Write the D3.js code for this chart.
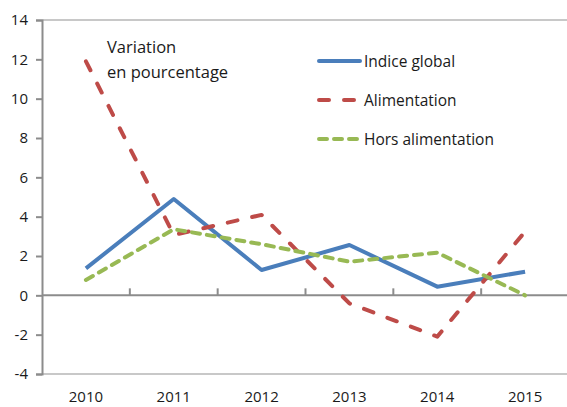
<!DOCTYPE html>
<html>
<head>
<meta charset="utf-8">
<script src="https://cdn.jsdelivr.net/npm/d3@7"></script>
<style>
  body { margin: 0; background: #fff; }
  text { font-family: "Open Sans", "Noto Sans", sans-serif; fill: #1a1a1a; }
</style>
</head>
<body>
<svg width="567" height="407"></svg>
<script>
const years = ["2010", "2011", "2012", "2013", "2014", "2015"];
const indiceGlobal = [1.37, 4.9, 1.29, 2.56, 0.44, 1.2];
const alimentation = [11.9, 3.07, 4.09, -0.41, -2.1, 3.24];
const horsAlimentation = [0.78, 3.36, 2.6, 1.71, 2.17, 0.0];
const yTicks = [-4, -2, 0, 2, 4, 6, 8, 10, 12, 14];

const series = [
  { name: "Indice global", values: indiceGlobal, color: "#4a7ebb", dash: null },
  { name: "Alimentation", values: alimentation, color: "#be4b48", dash: "10,15" },
  { name: "Hors alimentation", values: horsAlimentation, color: "#98b954", dash: "8,7" }
];

const svg = d3.select("svg");
const plotLeft = 42, plotRight = 569, plotTop = 20, plotBottom = 374;

const x = d3.scaleBand().domain(years).range([plotLeft, plotRight]);
const y = d3.scaleLinear().domain([-4, 14]).range([plotBottom, plotTop]);

// plot frame: top and bottom light lines
svg.append("line").attr("x1", plotLeft).attr("x2", plotRight).attr("y1", plotTop).attr("y2", plotTop)
  .attr("stroke", "#c8c8c8").attr("stroke-width", 2);
svg.append("line").attr("x1", plotLeft).attr("x2", plotRight).attr("y1", plotBottom).attr("y2", plotBottom)
  .attr("stroke", "#c8c8c8").attr("stroke-width", 2);

// y axis (hyphen minus, like the original)
const yAxis = svg.append("g")
  .attr("transform", `translate(${plotLeft},0)`)
  .call(d3.axisLeft(y).tickValues(yTicks).tickSize(6).tickPadding(8).tickFormat(d => String(d)));
yAxis.select(".domain").attr("stroke", "#8c8c8c").attr("stroke-width", 2);
yAxis.selectAll(".tick line").attr("stroke", "#8c8c8c").attr("stroke-width", 2);
yAxis.selectAll("text").attr("font-size", 15).attr("font-family", "'Open Sans', 'Noto Sans', sans-serif").attr("fill", "#1a1a1a");

// zero line with category ticks
svg.append("line").attr("x1", plotLeft).attr("x2", plotRight).attr("y1", y(0)).attr("y2", y(0))
  .attr("stroke", "#8c8c8c").attr("stroke-width", 2);
svg.append("g").selectAll("line")
  .data(years.slice(1))
  .join("line")
  .attr("x1", d => x(d)).attr("x2", d => x(d))
  .attr("y1", y(0) - 7).attr("y2", y(0))
  .attr("stroke", "#8c8c8c").attr("stroke-width", 2);

// x labels
svg.append("g").selectAll("text")
  .data(years)
  .join("text")
  .attr("x", d => x(d) + x.bandwidth() / 2)
  .attr("y", 402)
  .attr("text-anchor", "middle")
  .attr("font-size", 15)
  .text(d => d);

// lines
const line = d3.line()
  .x((d, i) => x(years[i]) + x.bandwidth() / 2)
  .y(d => y(d));

svg.append("g").selectAll("path")
  .data(series)
  .join("path")
  .attr("d", d => line(d.values))
  .attr("fill", "none")
  .attr("stroke", d => d.color)
  .attr("stroke-width", 4)
  .attr("stroke-dasharray", d => d.dash)
  .attr("stroke-linecap", d => d.dash ? "round" : "butt")
  .attr("stroke-linejoin", "round");

// annotation
svg.append("text").attr("x", 107).attr("y", 53).attr("font-size", 16.5).text("Variation");
svg.append("text").attr("x", 107).attr("y", 78).attr("font-size", 16.5).text("en pourcentage");

// legend
const legend = svg.append("g").selectAll("g")
  .data(series)
  .join("g")
  .attr("transform", (d, i) => `translate(319,${61 + i * 39})`);
legend.append("line")
  .attr("x1", 0).attr("x2", 41).attr("y1", 0).attr("y2", 0)
  .attr("stroke", d => d.color).attr("stroke-width", 4)
  .attr("stroke-dasharray", d => d.dash)
  .attr("stroke-linecap", "round");
legend.append("text")
  .attr("x", 45).attr("y", 5.5)
  .attr("font-size", 15.5)
  .text(d => d.name);
</script>
</body>
</html>
